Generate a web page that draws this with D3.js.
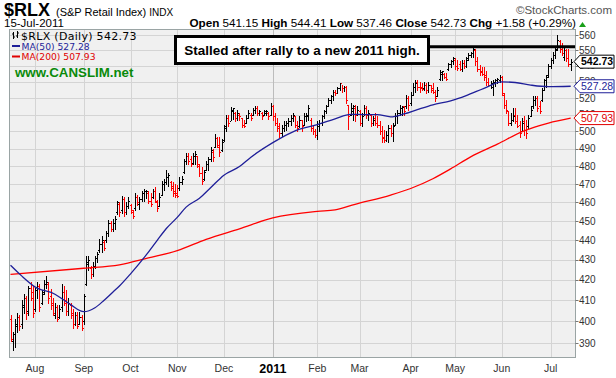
<!DOCTYPE html>
<html><head><meta charset="utf-8">
<script src="https://cdn.jsdelivr.net/npm/d3@7"></script>
<style>body{margin:0;background:#fff}svg{display:block}text{font-family:"Liberation Sans",Arial,sans-serif}</style>
</head><body><svg id="c" width="616" height="378"></svg>
<script>
// ---- DATA (daily bars, 16-Jul-2010 .. 15-Jul-2011) ----
const opens = [
 401,391,394,398,402,399,407,411,405,416,414,
 406,415,417,409,414,418,418,412,409,403,407,402,407,414,410,405,408,404,399,403,399,402,
 400,418,428,426,423,427,431,435,438,439,440,444,449,446,449,455,459,456,462,455,458,
 458.5,455,457,463,459,462,465,466,465,461,463,466,460,458,464,470,471,474,471,468,466,
 465,468,471,477,483,486,484,482,486,486,480,476,473,478,481,484,488,491,496,491,489,
 495,502,508,506,512,511,508,510,508,504,505,508,510,510,513,514,511,511,510,511,511,510,
 515,509,505,503,499,502,504,505,506,508,509,504,503,507,504,509,509,507,502,500,
 498,503,505,509,512,515,519,521,524,523,526,529,526,527,516,510,512,514,510,
 512,505,509,514,510,510,505,508,505,504,500,497,495,498,502,499,504,509,511,514,515,515,520,
 517,522,527,530,527,527,526,528,525,528,526,524,521,532,535,535,533,538,541,543,
 544,540,541,538,542,540,545,547,548,550,543,538,537,535,534,530,528,527,529,531,531,
 533,522,516,512,505,507,510,506,504,500,506,501,503,509,515,519,520,515,519,525,531,534,
 540,544,547,551,556,551,546,550,545,541.15
];
const highs = [
 403,395,401,404,403,410,413,412,417,419,417,
 416,419,418,415,420,422,419,415.5,411,409,408,408,418,417,415,411,409,406,404.5,404.5,404.5,403,
 413,432,432,427,429,432,434,440.5,442,440,445,450.5,450,451,452.5,461,460,463.5,463,460,463,
 459,456,464.9,464,463,466.5,467.6,467,466.5,465,467.6,468.5,461.5,465,472,473,478,476,472,471,470,
 469.5,474,474.5,484,487.5,487.5,486,487.5,488.5,486,481.3,479.5,478,483,485,490.7,489.7,498.3,497,496.5,495.4,
 504,510,510,514.7,514,511.5,513,511,508,507,509.5,512.5,511,514,515,515,513,511.5,513,512.5,511.5,517,
 515.9,511,508,505,504,506,506,508,510,511,509,506,509,507,511,511,516,508,504,501.2,
 506,506.5,510,513,516,520,522,525,525,527,529.5,528,527.5,527.5,516,517,516,516,515,
 513,511,516,515,513,510,509,511,509,506,503,501,500,504,504,505,511,513,516,515,515,522,521,
 524,529,531,531,530,529,530,529,530,528,529,525,527,537.4,537,535.5,535.5,542,544,545.6,
 545,544,543,543.5,543.5,545.5,548,549,552.3,551,546,540.6,539.5,539.5,536.5,532.5,530.5,531,532,532.5,534.3,
 533.5,523,519,512,511,514,514,510,506,508,509,507,510,515,521,521,521,518,526,532,534,541,
 545,549,552,560,557,555,553,551,551,544.41
];
const lows = [
 391,387,388,395,396,397,404,401,403,410,402,
 405,411,405,408.5,413,416,409,406,403,401.5,400,401.5,405,408,403,403,401.5,397,398.5,397,399,396,
 399,417.5,425,421,422,426,429,434,434,435,439,442,445,445,446,454,453,454.5,453,454,457,
 454.4,451.7,456,458.8,456.5,461,461,462.3,459.6,458,462.3,460.5,455.3,458,464,466.7,470.3,469,467,463.5,463,
 463,467,470,476,481.3,481,480,481,481.3,479.5,474.5,470.3,472.5,477.6,477.6,483,483,490.7,490.7,486,488.7,
 494.5,500.5,503,507,507.5,506,506.5,507,502.5,502.5,505,508,506.5,510,511,510,509.5,507.5,510,509.5,507.5,509.5,
 507,504,500.5,496.5,497.5,500.5,501,503,504,506,502.5,500.5,502.5,500.5,504,506,507,500,498.3,496.5,
 495.4,500,504,508,511,515,517,519,522,523,525,524,524.5,517,501.2,509.5,507,506,509.5,
 504,503.5,509.5,508,506.5,503.5,504,504,502.5,498.3,493.6,493.6,494.5,493.6,497.3,494.5,504,505,509.5,510,510,514,513,
 516,522,524,525,524,525,525,523,524,524,523,518,521,531,531.2,532.3,531.2,537.4,539.5,541,
 538,537.4,537.4,536.5,538.5,539.5,544,546,545.5,540.6,536.5,534.3,534.3,531.2,528.1,527.5,526.5,522,527.5,529,530,
 522,514,511,504,504,506,505,502.5,497,500,498,496,502,509,514,516,512,511,518,525,527,533,
 539,542,545,550,549,547,544,543,540,537.46
];
const closes = [
 392,394,399,402,398,408,411,404,416,411,404,
 415,417,407,413,418,419,411,408,404,407,401,406,414,409,405,409,403,399,403,398,402,397,
 412,429,430,423,427,431,433,438,440,436,444,449,446,449,451,460,455,462,455,458,461,
 456,453,463,460,462,465,466,466.5,461,459,466,461,457,463,470,471,474,475,469,465,464,
 463.5,471,473,483,486,483,481,486,487,481,476,472,477,481,484,489,485,496,492,488,494,
 503,508,505,513,513.8,508,511,509,504,503.5,508,511,508,513,514,511,512,509,512,512.3,509,515,
 509,505,502,499,502,504,505,506,508,510,504,502,507,503,509,510,514,502,500,498,
 503,505,509,512,515,519,521,524,523,526,529,526,527,519,509,514,515,510,513,
 505,509,514,510,511,505,507,505,504,500,496,495,498,502,499,503,509,511,514,514.6,512,520,516,
 522,527,529,527,526,525.5,528,525,528,525,524,520,525,536,536.5,533,532,541,543,545,
 540,539,538,542,540,544,547,548.5,551,543,538,536,535,533,530,528,529,530,531,532,533,
 523,516,513,505,507,509,506,503,499,505,501,499,508,513,519,520,514,512,525,531,533,540,
 544,547,550,557,551,548,550,545,541.15,542.73
];
// moving averages, read at selected bar indexes
const ma50Idx = [0,5,11,20,27,33,38,42,46,49,54,60,66,70,75,79,85,90,96,103,108,118,128,138,146,153,160,165,171,177,183,190,198,205,213,221,227,234,242,252];
const ma50Val = [427.3,422,416.6,413,408,404.6,406.5,410,414,417,423,431,440,446,452,457.5,462.3,468,475,479.8,485,493.5,500.4,504,507.5,510.2,510,510,508.7,510.4,513,515.9,518.3,521.5,526,530,529.6,528,527,527.28];
const ma200Idx = [0,33,49,62,75,88,103,118,138,146,155,171,180,190,198,207,219,231,242,252];
const ma200Val = [422.7,425.8,427.5,431,434.7,440.5,446,451.7,455.2,456,459,464,467.6,473,478.5,485.3,492.6,500.4,505,507.93];
const monthLabels = ["Aug","Sep","Oct","Nov","Dec","2011","Feb","Mar","Apr","May","Jun","Jul"];
const monthStartIdx = [11,33,54,75,96,118,138,157,180,200,221,243];
const yTickValues = [390,400,410,420,430,440,450,460,470,480,490,500,510,520,530,540,550,560];
const stallLevel = 552.3;
const lastClose = 542.73, lastMA50 = 527.28, lastMA200 = 507.93;

// ---- CHART ----
const svg = d3.select("#c");
const L = 9.5, R = 575.5, T = 29.5, B = 357.5;
const x = d3.scaleLinear().domain([0, 252]).range([10.5, 570.7]);
const y = d3.scaleLog().domain([390, 560]).range([343, 35]);

svg.append("rect").attr("x",0).attr("y",0).attr("width",616).attr("height",378).attr("fill","#fff");
svg.append("rect").attr("x",L).attr("y",T).attr("width",R-L).attr("height",B-T).attr("fill","#f0f0f0");

const grid = svg.append("g").attr("stroke","#d4d4d4").attr("stroke-width",1);
yTickValues.forEach(v=>{ const yy=Math.round(y(v))+0.5;
  grid.append("line").attr("x1",L).attr("x2",R).attr("y1",yy).attr("y2",yy); });
monthStartIdx.forEach((d,k)=>{ const xx=Math.round(x(d))+0.5;
  grid.append("line").attr("x1",xx).attr("x2",xx).attr("y1",T).attr("y2",B)
    .attr("stroke", monthLabels[k]==="2011" ? "#bcbcbc" : "#d4d4d4"); });

svg.append("defs").append("clipPath").attr("id","pc").append("rect")
  .attr("x",L).attr("y",T).attr("width",R-L).attr("height",B-T);
const pg = svg.append("g").attr("clip-path","url(#pc)");

// OHLC bars
let dBlack="", dRed="";
closes.forEach((c,i)=>{
  const px=Math.round(x(i)), yh=Math.round(y(highs[i])), yl=Math.round(y(lows[i]));
  const yo=Math.round(y(opens[i]))+0.5, yc=Math.round(y(c))+0.5;
  const s=`M${px+0.5},${yh}V${yl+1}M${px-1},${yo}H${px}M${px+1},${yc}H${px+2}`;
  const down = i===0 ? c<opens[i] : c<closes[i-1];
  if(down) dRed+=s; else dBlack+=s;
});
pg.append("path").attr("d",dBlack).attr("stroke","#000").attr("fill","none").attr("stroke-width",1);
pg.append("path").attr("d",dRed).attr("stroke","#f00").attr("fill","none").attr("stroke-width",1);

// moving averages
const line = d3.line().x(d=>x(d[0])).y(d=>y(d[1])).curve(d3.curveMonotoneX);
pg.append("path").attr("d",line(ma200Idx.map((d,k)=>[d,ma200Val[k]])))
  .attr("fill","none").attr("stroke","#f00").attr("stroke-width",1.3);
pg.append("path").attr("d",line(ma50Idx.map((d,k)=>[d,ma50Val[k]])))
  .attr("fill","none").attr("stroke","#1f1f99").attr("stroke-width",1.3);

// annotation
const ys = y(stallLevel);
svg.append("line").attr("x1",429).attr("x2",R).attr("y1",ys).attr("y2",ys)
  .attr("stroke","#000").attr("stroke-width",3);
svg.append("rect").attr("x",175.5).attr("y",36.5).attr("width",253).attr("height",27)
  .attr("fill","#fff").attr("stroke","#000").attr("stroke-width",3);
svg.append("text").attr("x",302).attr("y",55).attr("text-anchor","middle")
  .attr("font-size",13.5).attr("font-weight","bold").text("Stalled after rally to a new 2011 high.");

// frame
svg.append("rect").attr("x",L).attr("y",T).attr("width",R-L).attr("height",B-T)
  .attr("fill","none").attr("stroke","#9aa4a4").attr("stroke-width",1);

// y axis
const ya = svg.append("g");
yTickValues.forEach(v=>{ const yy=y(v);
  ya.append("line").attr("x1",R).attr("x2",R+3).attr("y1",Math.round(yy)+0.5).attr("y2",Math.round(yy)+0.5).attr("stroke","#777");
  ya.append("text").attr("x",579).attr("y",yy+3.5).attr("font-size",10).attr("fill","#333").text(v);
});
function tag(v,color,bold){
  const yy=y(v);
  svg.append("path").attr("d",`M574,${yy}L580,${yy-6.5}H614V${yy+6.5}H580Z`)
    .attr("fill","#fff").attr("stroke",color).attr("stroke-width",1);
  svg.append("text").attr("x",581).attr("y",yy+3.8).attr("font-size",10.5)
    .attr("font-weight",bold?"bold":"normal").attr("fill",color).text(v.toFixed(2));
}
tag(lastMA200,"#e00000",false);
tag(lastMA50,"#1f1f99",false);
tag(lastClose,"#000",true);

// x axis labels
monthStartIdx.forEach((d,k)=>{
  const is=monthLabels[k]==="2011";
  svg.append("text").attr("x",x(d)).attr("y",is?373:372).attr("text-anchor","middle")
    .attr("font-size",is?12.5:10.5).attr("font-weight",is?"bold":"normal")
    .attr("fill",is?"#000":"#333").text(monthLabels[k]);
});

// legend
const lg = svg.append("g");
lg.append("path").attr("d","M13.5,32V39M12,34H13.5M13.5,37H15M17.5,31V38M16,36H17.5M17.5,33H19").attr("stroke","#000").attr("fill","none");
lg.append("text").attr("x",21).attr("y",39.5).style("font-family","'DejaVu Sans'").attr("font-size",11).attr("letter-spacing",0.3).text("$RLX (Daily) 542.73");
lg.append("line").attr("x1",12).attr("x2",20).attr("y1",46).attr("y2",46).attr("stroke","#1f1f99").attr("stroke-width",2);
lg.append("text").attr("x",21.5).attr("y",49.5).style("font-family","'DejaVu Sans'").attr("font-size",9.2).attr("fill","#1f1f99").text("MA(50) 527.28");
lg.append("line").attr("x1",12).attr("x2",20).attr("y1",56.5).attr("y2",56.5).attr("stroke","#e00000").attr("stroke-width",2);
lg.append("text").attr("x",21.5).attr("y",60).style("font-family","'DejaVu Sans'").attr("font-size",9.2).attr("fill","#e00000").text("MA(200) 507.93");
lg.append("text").attr("x",15).attr("y",77).attr("font-size",13.3).attr("font-weight","bold").attr("fill","#0a8a0a").text("www.CANSLIM.net");

// header
svg.append("text").attr("x",4).attr("y",16).attr("font-size",18).attr("font-weight","bold").text("$RLX");
const sub = svg.append("text").attr("x",56).attr("y",16).attr("font-size",11);
sub.append("tspan").text("(S&P Retail Index) ");
sub.append("tspan").attr("font-size",10).text("INDX");
svg.append("text").attr("x",612).attr("y",14).attr("text-anchor","end").attr("font-size",11.5).attr("fill","#555").text("\u00A9StockCharts.com");
svg.append("text").attr("x",4).attr("y",27).attr("font-size",11.5).text("15-Jul-2011");
const info = svg.append("text").attr("x",576).attr("y",27).attr("text-anchor","end").attr("font-size",11.7);
[["Open",1],[" 541.15 ",0],["High",1],[" 544.41 ",0],["Low",1],[" 537.46 ",0],["Close",1],[" 542.73 ",0],["Chg",1],[" +1.58 (+0.29%)",0]]
 .forEach(p=>info.append("tspan").attr("font-weight",p[1]?"bold":"normal").text(p[0]));
svg.append("path").attr("d","M579,27L582.5,22L586,27Z").attr("fill","#1aa01a");
</script>
</body></html>
